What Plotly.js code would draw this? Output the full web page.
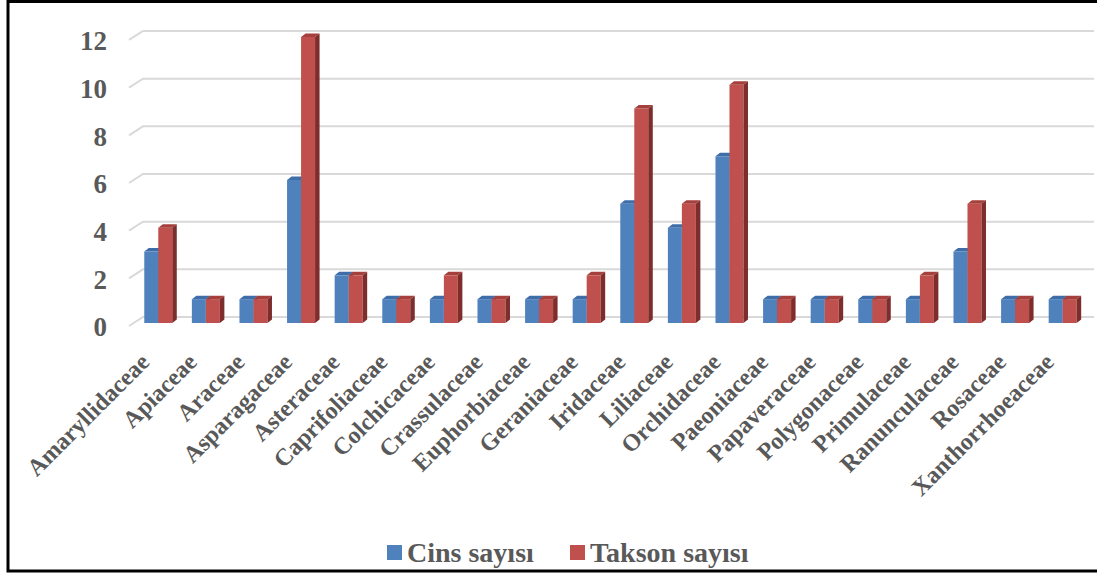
<!DOCTYPE html>
<html>
<head>
<meta charset="utf-8">
<script src="https://cdn.plot.ly/plotly-3.0.1.min.js"></script>
<style>
  html, body { margin: 0; padding: 0; background: #ffffff; }
  #chart { width: 1097px; height: 574px; }
</style>
</head>
<body>
<div id="chart"></div>
<script>
// Plant families and their genus / taxon counts
const families = [
  "Amaryllidaceae", "Apiaceae", "Araceae", "Asparagaceae", "Asteraceae",
  "Caprifoliaceae", "Colchicaceae", "Crassulaceae", "Euphorbiaceae", "Geraniaceae",
  "Iridaceae", "Liliaceae", "Orchidaceae", "Paeoniaceae", "Papaveraceae",
  "Polygonaceae", "Primulaceae", "Ranunculaceae", "Rosaceae", "Xanthorrhoeaceae"
];
const cinsSayisi   = [3, 1, 1, 6, 2, 1, 1, 1, 1, 1, 5, 4, 7, 1, 1, 1, 1, 3, 1, 1];
const taksonSayisi = [4, 1, 1, 12, 2, 1, 2, 1, 1, 2, 9, 5, 10, 1, 1, 1, 2, 5, 1, 1];
const yTicks = [0, 2, 4, 6, 8, 10, 12];
const seriesNames = ["Cins sayısı", "Takson sayısı"];

// ---- page geometry ----
const W = 1097, H = 574;
const margin = { l: 124, r: 1, t: 26, b: 246, pad: 0 };
const xRange = [-0.72, 19.7];
const yRange = [-0.21, 12.46];
const plotW = W - margin.l - margin.r;
const plotH = H - margin.t - margin.b;
const pxX = plotW / (xRange[1] - xRange[0]);   // pixels per category
const pxY = plotH / (yRange[1] - yRange[0]);   // pixels per count unit

// pixel helpers -> data / paper units
const xOfPx = px => xRange[0] + (px - margin.l) / pxX;
const dxU = px => px / pxX;
const dyU = px => px / pxY;
const paperX = px => (px - margin.l) / plotW;
const paperY = py => (H - margin.b - py) / plotH;

// bar look
const barW = dxU(14);          // each bar's front face width
const depthX = dxU(4.5);       // extrusion of the 3D bars
const depthY = dyU(3.5);
const colors = {
  blue:  { front: "#4F81BD", top: "#3E6DA7", side: "#2F5588" },
  red:   { front: "#C0504D", top: "#A6403D", side: "#7D2D2B" }
};

const font = "Liberation Serif";
const textGrey = "#595959";

const xIdx = families.map((_, i) => i);

const traces = [
  {
    type: "bar", name: seriesNames[0], x: xIdx, y: cinsSayisi,
    offset: -barW, width: barW,
    marker: { color: colors.blue.front, line: { width: 0 } },
    hovertemplate: "%{customdata}: %{y}<extra>" + seriesNames[0] + "</extra>",
    customdata: families
  },
  {
    type: "bar", name: seriesNames[1], x: xIdx, y: taksonSayisi,
    offset: 0, width: barW,
    marker: { color: colors.red.front, line: { width: 0 } },
    hovertemplate: "%{customdata}: %{y}<extra>" + seriesNames[1] + "</extra>",
    customdata: families
  }
];

const shapes = [];

// back wall gridlines with the slanted floor stub on the left
const stubFront = xOfPx(129), stubBack = xOfPx(143), gridEnd = xOfPx(1094);
yTicks.forEach(t => {
  const yb = t + dyU(6), yf = t - dyU(3);
  shapes.push({
    type: "path", xref: "x", yref: "y", layer: "below",
    path: `M ${stubFront},${yf} L ${stubBack},${yb} L ${gridEnd},${yb}`,
    line: { color: "#D9D9D9", width: 2 }
  });
});

// top and side faces that give each bar its depth
function addFaces(values, leftOffset, palette, layer) {
  values.forEach((v, i) => {
    const xl = i + leftOffset, xr = xl + barW;
    shapes.push({
      type: "path", xref: "x", yref: "y", layer: layer,
      path: `M ${xl},${v} L ${xl + depthX},${v + depthY} L ${xr + depthX},${v + depthY} L ${xr},${v} Z`,
      fillcolor: palette.top, line: { width: 0 }
    });
    shapes.push({
      type: "path", xref: "x", yref: "y", layer: layer,
      path: `M ${xr},0 L ${xr + depthX},${depthY} L ${xr + depthX},${v + depthY} L ${xr},${v} Z`,
      fillcolor: palette.side, line: { width: 0 }
    });
  });
}
addFaces(cinsSayisi, -barW, colors.blue, "between");
addFaces(taksonSayisi, 0, colors.red, "above");

// frame around the whole figure
shapes.push({
  type: "rect", xref: "paper", yref: "paper", layer: "above",
  x0: paperX(8), x1: paperX(1100),
  y0: paperY(571), y1: paperY(1.5),
  line: { color: "#000000", width: 3 }, fillcolor: "rgba(0,0,0,0)"
});

// legend at the bottom: colour keys plus series names
const legendItems = [
  { name: seriesNames[0], color: colors.blue.front, keyX: 387, textX: 405 },
  { name: seriesNames[1], color: colors.red.front,  keyX: 570, textX: 588 }
];
const legendY = 552;
const annotations = [];
legendItems.forEach(it => {
  shapes.push({
    type: "rect", xref: "paper", yref: "paper", layer: "above",
    x0: paperX(it.keyX), x1: paperX(it.keyX + 15),
    y0: paperY(legendY + 8), y1: paperY(legendY - 7),
    fillcolor: it.color, line: { width: 0 }
  });
  annotations.push({
    xref: "paper", yref: "paper", x: paperX(it.textX), y: paperY(legendY),
    xanchor: "left", yanchor: "middle", showarrow: false,
    text: it.name,
    font: { family: font, size: 28, color: textGrey, weight: "bold" }
  });
});

const layout = {
  width: W, height: H,
  margin: margin,
  font: { family: font, color: textGrey, weight: "bold" },
  paper_bgcolor: "#ffffff",
  plot_bgcolor: "rgba(0,0,0,0)",
  barmode: "overlay",
  showlegend: false,
  xaxis: {
    range: xRange, fixedrange: true,
    tickmode: "array", tickvals: xIdx, ticktext: families,
    tickangle: -45,
    tickfont: { family: font, size: 24, color: textGrey, weight: "bold" },
    showgrid: false, zeroline: false, showline: false, ticks: "",
    ticklabelshift: -16,
    ticklabelstandoff: 14
  },
  yaxis: {
    range: yRange, fixedrange: true,
    tickmode: "array", tickvals: yTicks,
    tickfont: { family: font, size: 27, color: textGrey, weight: "bold" },
    showgrid: false, zeroline: false, showline: false, ticks: "",
    ticklabelshift: 4,
    ticklabelstandoff: 16
  },
  annotations: annotations,
  shapes: shapes
};

Plotly.newPlot("chart", traces, layout, { displayModeBar: false, staticPlot: true });
</script>
</body>
</html>
